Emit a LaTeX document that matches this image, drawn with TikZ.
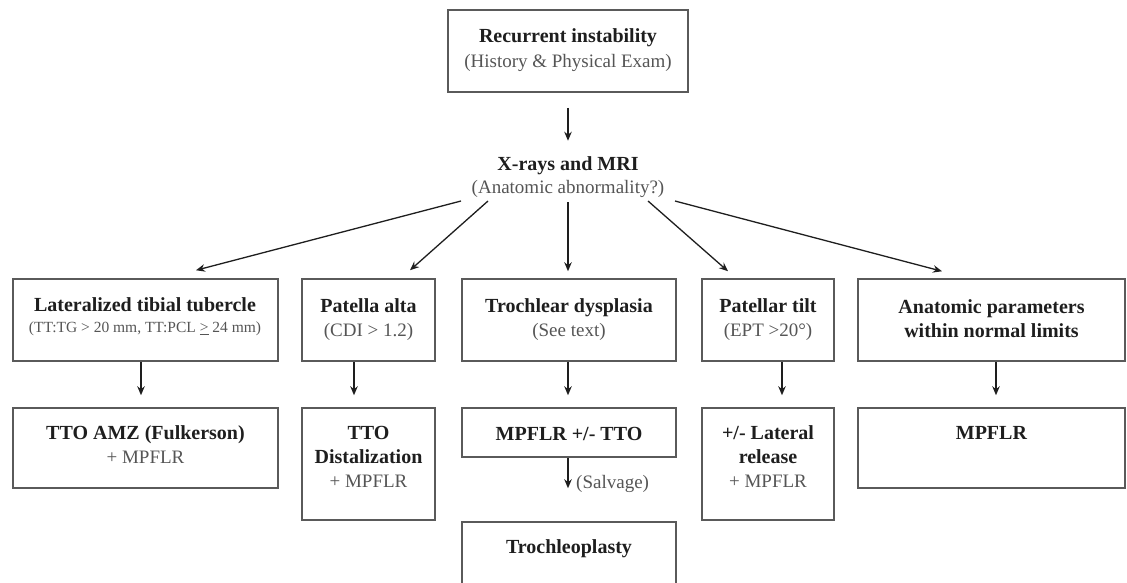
\documentclass[tikz,border=0pt]{standalone}
\usepackage{fontspec}
\setmainfont{Liberation Serif}
\usetikzlibrary{arrows.meta,calc}
\definecolor{boxc}{HTML}{5A5A5A}
\definecolor{dark}{HTML}{1E1E1E}
\definecolor{sub}{HTML}{555555}
\tikzset{
  box/.style={draw=boxc, line width=1.5pt, inner sep=0pt, rectangle},
  txt/.style={align=center, inner sep=0pt, text=dark, font=\fontsize{20}{24}\selectfont},
  arr/.style={draw=dark, line width=1.3pt, -{Stealth[length=9pt,width=7.5pt]}},
}
\newcommand{\sub}[1]{{\color{sub}\mdseries\fontsize{19}{24}\selectfont #1}}
\begin{document}
\begin{tikzpicture}[x=1pt,y=-1pt]
\useasboundingbox (0,0) rectangle (1127,582);
\clip (0,0) rectangle (1127,582);
% top
\node[box, minimum width=240pt, minimum height=82pt] (top) at (568,51) {};
\node[txt, font=\fontsize{20}{25}\selectfont] (topt) at (568,50) {\textbf{Recurrent instability}\\\sub{(History \& Physical Exam)}};
\node[txt, font=\fontsize{20}{23}\selectfont] (xr) at (568,177) {\textbf{X-rays and MRI}\\\sub{(Anatomic abnormality?)}};
\draw[arr] ($(top.south)+(0,15)$) -- ($(top.south)+(0,48)$);
% row 1 boxes
\node[box, minimum width=265pt, minimum height=82pt] (a1) at (145.5,320) {};
\node[box, minimum width=133pt, minimum height=82pt] (a2) at (368.5,320) {};
\node[box, minimum width=214pt, minimum height=82pt] (a3) at (569,320) {};
\node[box, minimum width=132pt, minimum height=82pt] (a4) at (768,320) {};
\node[box, minimum width=267pt, minimum height=82pt] (a5) at (991.5,320) {};
\node[txt] (a1t) at (145,317) {\textbf{Lateralized tibial tubercle}\\[-3pt]\sub{\fontsize{15.5}{18}\selectfont(TT:TG > 20 mm, TT:PCL \underline{>} 24 mm)}};
\node[txt] (a2t) at (368.5,320) {\textbf{Patella alta}\\\sub{(CDI > 1.2)}};
\node[txt] (a3t) at (569,320) {\textbf{Trochlear dysplasia}\\\sub{(See text)}};
\node[txt] (a4t) at (768,320) {\textbf{Patellar tilt}\\\sub{(EPT >20°)}};
\node[txt] (a5t) at (991.5,319) {\textbf{Anatomic parameters}\\\textbf{within normal limits}};
% fan arrows
\coordinate (s1) at (461,201); \coordinate (s2) at (488,201); \coordinate (s3) at (568,202);
\coordinate (s4) at (648,201); \coordinate (s5) at (675,201);
\draw[arr] (s1) -- ($(a1.north)+(50.5,-8)$);
\draw[arr] (s2) -- ($(a2.north)+(41.5,-8)$);
\draw[arr] (s3) -- ($(a3.north)+(-1,-7)$);
\draw[arr] (s4) -- ($(a4.north)+(-40,-7)$);
\draw[arr] (s5) -- ($(a5.north)+(-49.5,-7)$);
% row 2 boxes
\node[box, minimum width=265pt, minimum height=80pt] (b1) at (145.5,448) {};
\node[box, minimum width=133pt, minimum height=112pt] (b2) at (368.5,464) {};
\node[box, minimum width=214pt, minimum height=49pt] (b3) at (569,432.5) {};
\node[box, minimum width=132pt, minimum height=112pt] (b4) at (768,464) {};
\node[box, minimum width=267pt, minimum height=80pt] (b5) at (991.5,448) {};
\node[box, minimum width=214pt, minimum height=80pt] (c3) at (569,562) {};
\node[txt] (b1t) at (145.5,445) {\textbf{TTO AMZ (Fulkerson)}\\\sub{+ MPFLR}};
\node[txt] (b2t) at (368.5,457) {\textbf{TTO}\\\textbf{Distalization}\\\sub{+ MPFLR}};
\node[txt] (b3t) at (569,434) {\textbf{MPFLR +/- TTO}};
\node[txt] (b4t) at (768,457) {\textbf{+/- Lateral}\\\textbf{release}\\\sub{+ MPFLR}};
\node[txt] (b5t) at (991.5,433) {\textbf{MPFLR}};
\node[txt] (c3t) at (569,549) {\textbf{Trochleoplasty}};
% row arrows
\draw[arr] (a1.south -| 141,0) -- ($(b1.north -| 141,0)+(0,-12)$);
\draw[arr] (a2.south -| 354,0) -- ($(b2.north -| 354,0)+(0,-12)$);
\draw[arr] (a3.south -| 568,0) -- ($(b3.north -| 568,0)+(0,-12)$);
\draw[arr] (a4.south -| 782,0) -- ($(b4.north -| 782,0)+(0,-12)$);
\draw[arr] (a5.south -| 996,0) -- ($(b5.north -| 996,0)+(0,-12)$);
\draw[arr] (b3.south -| 568,0) -- ($(c3.north -| 568,0)+(0,-33)$);
\node[txt, anchor=west] (salv) at (576,484) {\sub{(Salvage)}};
\end{tikzpicture}
\end{document}
